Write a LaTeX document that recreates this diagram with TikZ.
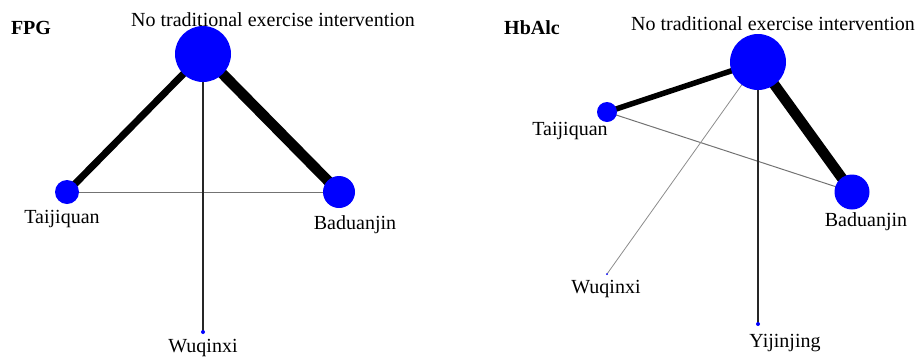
\documentclass[tikz,border=0pt]{standalone}
\usepackage{fontspec}
\setmainfont{Liberation Serif}
\usetikzlibrary{backgrounds}
\begin{document}
\begin{tikzpicture}[x=1pt,y=-1pt,
  trt/.style={circle,fill=blue,draw=none,inner sep=0pt,minimum size=#1},
  lbl/.style={inner sep=0pt,font=\fontsize{20}{24}\selectfont},
  ttl/.style={inner sep=0pt,font=\fontsize{20}{24}\selectfont\bfseries},
  thin/.style={line width=1pt,draw=black!55},
  thinD/.style={line width=1.3pt,draw=black!85},
  thinL/.style={line width=0.8pt,draw=black!45}]
\useasboundingbox (0,0) rectangle (921,357);

% ---- FPG network ----
\node[ttl] (fpg) at (31,28) {FPG};
\node[trt=56pt] (n1) at (203,54) {};
\node[trt=24pt] (t1) at (67,192) {};
\node[trt=32pt] (b1) at (339,192) {};
\node[trt=4pt]  (w1) at (203,332) {};
\node[lbl] (n1l) at (273,20) {No traditional exercise intervention};
\node[lbl] (t1l) at (62,219) {Taijiquan};
\node[lbl] (b1l) at (355,225) {Baduanjin};
\node[lbl] (w1l) at (203,348) {Wuqinxi};
\begin{scope}[on background layer]
  \draw[line width=7pt] (n1.center) -- (t1.center);
  \draw[line width=10.5pt] (n1.center) -- (b1.center);
  \draw[thin] (t1.center) -- (b1.center);
  \draw[thinD] (n1.center) -- (w1.center);
\end{scope}

% ---- HbAlc network ----
\node[ttl] (hba) at (532,28) {HbAlc};
\node[trt=56pt] (n2) at (758,62) {};
\node[trt=20pt] (t2) at (607,112) {};
\node[trt=35pt] (b2) at (852,192) {};
\node[trt=2pt]  (w2) at (607,274) {};
\node[trt=4pt]  (y2) at (758,324) {};
\node[lbl] (n2l) at (773,24) {No traditional exercise intervention};
\node[lbl] (t2l) at (570,131) {Taijiquan};
\node[lbl] (b2l) at (866,222) {Baduanjin};
\node[lbl] (w2l) at (606,289) {Wuqinxi};
\node[lbl] (y2l) at (785,343) {Yijinjing};
\begin{scope}[on background layer]
  \draw[line width=5.5pt] (n2.center) -- (t2.center);
  \draw[line width=10.5pt] (n2.center) -- (b2.center);
  \draw[thin] (t2.center) -- (b2.center);
  \draw[thinL] (n2.center) -- (w2.center);
  \draw[thinD] (n2.center) -- (y2.center);
\end{scope}
\end{tikzpicture}
\end{document}
